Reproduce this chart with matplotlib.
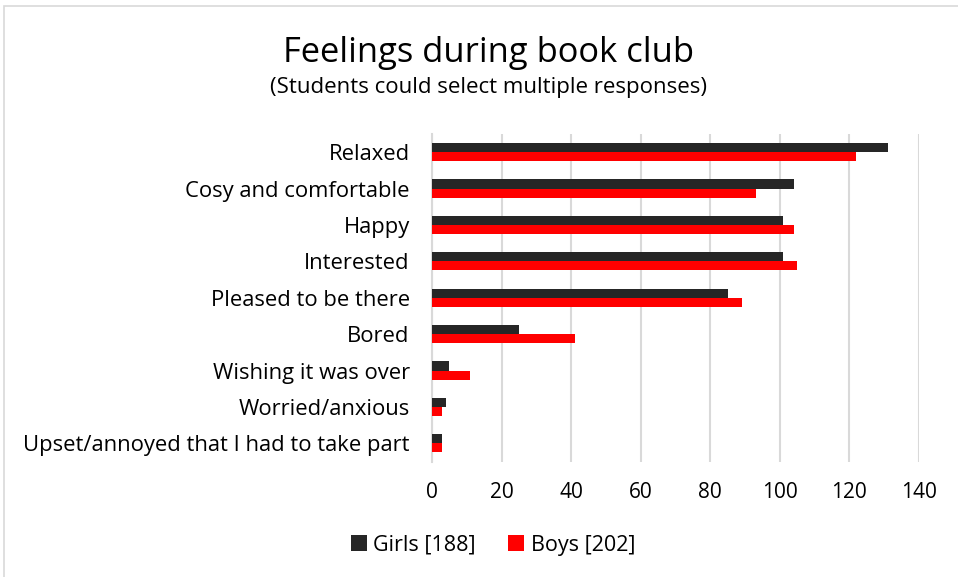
import matplotlib.pyplot as plt
import numpy as np
from matplotlib.patches import Rectangle

# survey answers, top of the chart first
feelings = ['Relaxed', 'Cosy and comfortable', 'Happy', 'Interested',
            'Pleased to be there', 'Bored', 'Wishing it was over',
            'Worried/anxious', 'Upset/annoyed that I had to take part']
girls = [131, 104, 101, 101, 85, 25, 5, 4, 3]
boys = [122, 93, 104, 105, 89, 41, 11, 3, 3]
xticks = [0, 20, 40, 60, 80, 100, 120, 140]

plt.rcParams['font.family'] = ['Open Sans', 'DejaVu Sans']

fig = plt.figure(figsize=(9.58, 5.77), dpi=100)
ax = fig.add_axes([0.4509, 0.2, 0.5084, 0.5678])

# light frame round the whole chart
fig.patches.append(Rectangle((4 / 958, -0.05), 1.1, 1.05 - 6 / 577,
                             transform=fig.transFigure, fill=False,
                             edgecolor='#d9d9d9', linewidth=1.2))

y = np.arange(len(feelings))
h = 0.25
ax.barh(y - h / 2, girls, height=h, color='#262626', label='Girls [188]', zorder=3)
ax.barh(y + h / 2, boys, height=h, color='#ff0000', label='Boys [202]', zorder=3)

ax.set_ylim(len(feelings) - 0.5, -0.5)
ax.set_xlim(0, 140)
ax.set_xticks(xticks)
ax.set_yticks(y)
ax.set_yticklabels(feelings, fontsize=15.8)
ax.tick_params(axis='x', labelsize=15, length=0, pad=15)
ax.tick_params(axis='y', length=0, pad=16)
ax.grid(axis='x', color='#d9d9d9', linewidth=1.5, zorder=0)
for s in ['top', 'right', 'bottom']:
    ax.spines[s].set_visible(False)
ax.spines['left'].set_color('#d9d9d9')
ax.spines['left'].set_linewidth(1.5)

fig.text(488 / 958, 1 - 53 / 577, 'Feelings during book club', ha='center',
         va='center', fontsize=24.8)
fig.text(488 / 958, 1 - 88 / 577, '(Students could select multiple responses)',
         ha='center', va='center', fontsize=16)

fig.legend(loc='center', bbox_to_anchor=(493 / 958, 1 - 545 / 577), ncol=2,
           frameon=False, fontsize=15.5, handlelength=0.75, handleheight=0.75,
           handletextpad=0.3, columnspacing=1.5)

fig.savefig('out.png', dpi=100)
